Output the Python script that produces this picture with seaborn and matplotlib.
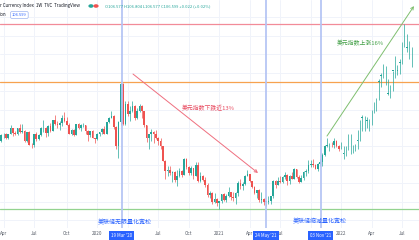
import numpy as np
import pandas as pd
import matplotlib
matplotlib.use("Agg")
import matplotlib.pyplot as plt
import matplotlib.dates as mdates
import seaborn as sns

# ---------------- data (weekly US Dollar Index candles) ----------------
first_week = "2019-03-25"
opens = [96.6, 97.3, 97.4, 96.9, 97.4, 98.0, 97.5, 97.3, 98.0, 97.6,
         97.7, 96.6, 97.6, 96.2, 96.1, 97.3, 96.8, 97.2, 98.0, 98.0,
         97.5, 98.2, 97.7, 98.9, 98.4, 98.3, 98.5, 99.1, 98.8, 98.3,
         97.3, 97.8, 97.2, 98.4, 98.0, 98.3, 98.3, 97.7, 97.2, 97.7,
         96.9, 96.8, 97.4, 97.6, 97.9, 97.4, 98.7, 99.1, 99.3, 98.1,
         96.0, 98.7, 102.8, 98.4, 100.6, 99.5, 99.8, 100.4, 99.1, 99.8,
         100.4, 99.9, 98.3, 96.9, 97.3, 97.6, 97.4, 96.9, 96.6, 96.0,
         94.4, 93.3, 93.4, 93.1, 93.2, 92.4, 92.8, 93.3, 92.9, 94.6,
         93.8, 93.1, 93.7, 92.8, 94.0, 92.2, 92.8, 92.4, 91.8, 90.7,
         90.9, 90.0, 90.3, 89.9, 90.1, 90.8, 90.2, 90.6, 91.0, 90.5,
         90.4, 90.9, 92.0, 91.7, 91.9, 92.8, 93.0, 92.2, 91.6, 90.9,
         91.3, 90.2, 90.3, 90.0, 90.0, 90.1, 90.6, 92.2, 91.8, 92.2,
         92.1, 92.7, 92.9, 92.2, 92.8, 92.5, 93.5, 92.7, 92.1, 92.6,
         93.2, 93.3, 94.0, 94.1, 94.0, 93.6, 94.1, 94.3, 95.1, 96.0,
         96.1, 96.2, 96.1, 96.6, 96.0, 95.7, 95.2, 95.6, 97.3, 95.5,
         96.0, 96.0, 96.6, 98.6, 99.1, 98.2, 98.8, 98.6, 99.8, 100.5,
         101.1, 103.0, 103.7, 104.6, 103.2, 101.7, 102.2, 104.2, 104.7, 104.2,
         105.1, 106.9, 108.1, 106.7, 105.8, 106.577]
highs = [97.3, 97.5, 97.5, 97.4, 98.3, 98.0, 97.7, 98.0, 98.4, 98.4,
         97.8, 97.6, 97.7, 96.4, 97.3, 97.6, 97.4, 98.1, 98.9, 98.1,
         98.3, 98.5, 98.9, 99.4, 98.8, 98.8, 99.4, 99.7, 99.2, 98.5,
         97.9, 97.9, 98.4, 98.5, 98.4, 98.5, 98.3, 97.8, 97.7, 97.8,
         96.9, 97.5, 97.6, 98.0, 98.2, 98.7, 99.2, 99.9, 99.4, 98.2,
         98.8, 103.0, 102.9, 100.9, 100.9, 100.4, 100.9, 100.5, 100.2, 100.6,
         100.5, 99.9, 98.3, 97.4, 97.9, 97.7, 97.8, 97.0, 96.9, 96.0,
         94.5, 93.9, 93.9, 93.3, 93.3, 93.4, 93.7, 93.4, 94.7, 94.7,
         93.9, 93.9, 93.7, 94.3, 94.3, 93.2, 92.9, 92.7, 92.0, 91.2,
         91.0, 90.9, 90.4, 90.1, 90.8, 90.9, 90.8, 91.6, 91.1, 91.0,
         91.0, 92.2, 92.5, 92.1, 92.9, 93.4, 93.0, 92.2, 91.7, 91.3,
         91.4, 91.0, 90.4, 90.1, 90.6, 90.6, 92.4, 92.4, 92.7, 92.8,
         92.8, 93.2, 93.0, 92.9, 93.2, 93.7, 93.6, 92.9, 92.9, 93.3,
         93.5, 94.5, 94.5, 94.6, 94.1, 94.2, 94.6, 95.3, 96.2, 96.9,
         96.4, 96.5, 96.9, 96.7, 96.2, 96.5, 96.0, 96.0, 97.4, 97.4,
         96.1, 96.3, 97.8, 98.9, 99.4, 99.3, 99.2, 99.0, 100.0, 100.8,
         101.3, 103.3, 104.0, 105.0, 104.7, 103.3, 102.7, 104.2, 105.8, 104.8,
         105.5, 107.3, 109.3, 108.2, 107.4, 106.804]
lows = [96.5, 96.9, 96.8, 96.8, 97.3, 97.1, 97.2, 97.2, 97.5, 97.5,
        96.5, 96.5, 96.1, 95.8, 95.9, 96.6, 96.7, 97.1, 97.6, 97.0,
        97.1, 97.6, 97.7, 98.3, 98.0, 97.8, 98.2, 98.6, 98.3, 97.3,
        97.2, 97.1, 97.2, 97.9, 97.7, 98.1, 97.4, 96.6, 97.0, 96.9,
        96.4, 96.7, 97.1, 97.3, 97.3, 97.4, 98.5, 99.1, 97.9, 95.7,
        94.7, 98.3, 98.3, 98.3, 99.3, 98.8, 99.7, 98.9, 99.0, 99.7,
        99.1, 98.1, 96.5, 95.7, 96.6, 96.4, 96.8, 96.2, 95.7, 94.4,
        92.5, 92.8, 92.9, 92.1, 92.1, 91.7, 92.7, 92.7, 92.9, 93.5,
        92.9, 92.9, 92.5, 92.8, 92.1, 92.1, 92.2, 91.6, 90.5, 90.4,
        89.7, 89.9, 89.5, 89.2, 89.9, 90.1, 90.0, 90.5, 90.2, 90.1,
        89.7, 90.6, 91.4, 91.3, 91.8, 92.8, 92.1, 91.5, 90.8, 90.4,
        90.0, 89.9, 89.6, 89.5, 89.7, 89.8, 90.4, 91.5, 91.8, 92.0,
        92.0, 92.5, 91.8, 91.9, 92.5, 92.5, 92.6, 92.0, 92.1, 92.4,
        92.8, 93.1, 93.8, 93.8, 93.5, 93.3, 93.9, 93.9, 95.0, 95.9,
        95.5, 95.9, 95.8, 95.9, 95.5, 95.7, 94.6, 95.0, 95.6, 95.2,
        95.3, 95.5, 95.7, 96.6, 97.7, 97.7, 98.0, 97.7, 98.3, 99.6,
        99.8, 101.0, 102.4, 103.4, 102.7, 101.6, 101.3, 102.0, 103.4, 103.8,
        103.9, 104.9, 106.8, 106.3, 105.5, 104.6]
closes = [97.2, 97.4, 96.9, 97.4, 98.0, 97.5, 97.3, 98.0, 97.6, 97.7,
          96.6, 97.6, 96.2, 96.1, 97.3, 96.8, 97.2, 98.0, 98.0, 97.5,
          98.2, 97.7, 98.9, 98.4, 98.3, 98.5, 99.1, 98.8, 98.3, 97.3,
          97.8, 97.2, 98.4, 98.0, 98.3, 98.3, 97.7, 97.2, 97.7, 96.9,
          96.8, 97.4, 97.6, 97.9, 97.4, 98.7, 99.1, 99.3, 98.1, 96.0,
          98.7, 102.8, 98.4, 100.6, 99.5, 99.8, 100.4, 99.1, 99.8, 100.4,
          99.9, 98.3, 96.9, 97.3, 97.6, 97.4, 96.9, 96.6, 96.0, 94.4,
          93.3, 93.4, 93.1, 93.2, 92.4, 92.8, 93.3, 92.9, 94.6, 93.8,
          93.1, 93.7, 92.8, 94.0, 92.2, 92.8, 92.4, 91.8, 90.7, 90.9,
          90.0, 90.3, 89.9, 90.1, 90.8, 90.2, 90.6, 91.0, 90.5, 90.4,
          90.9, 92.0, 91.7, 91.9, 92.8, 93.0, 92.2, 91.6, 90.9, 91.3,
          90.2, 90.3, 90.0, 90.0, 90.1, 90.6, 92.2, 91.8, 92.2, 92.1,
          92.7, 92.9, 92.2, 92.8, 92.5, 93.5, 92.7, 92.1, 92.6, 93.2,
          93.3, 94.0, 94.1, 94.0, 93.6, 94.1, 94.3, 95.1, 96.0, 96.1,
          96.2, 96.1, 96.6, 96.0, 95.7, 95.7, 95.2, 95.6, 97.3, 95.5,
          96.0, 96.0, 96.6, 98.6, 99.1, 98.2, 98.8, 98.6, 99.8, 100.5,
          101.1, 103.0, 103.7, 104.6, 103.2, 101.7, 102.2, 104.2, 104.7, 104.2,
          105.1, 106.9, 108.1, 106.7, 105.8, 106.599]

tick_dates = ["2019-04-01", "2019-07-01", "2019-10-07", "2020-01-06",
              "2020-07-06", "2020-10-05", "2021-01-04", "2021-04-05", "2021-07-05",
              "2022-01-03", "2022-04-04", "2022-07-04"]
tick_labels = ["Apr", "Jul", "Oct", "2020", "Jul", "Oct", "2021", "Apr",
               "Jul", "2022", "Apr", "Jul"]
grid_dates = ["2019-04-01", "2019-07-01", "2019-10-07", "2020-01-06", "2020-04-06",
              "2020-07-06", "2020-10-05", "2021-01-04", "2021-04-05", "2021-07-05",
              "2021-10-04", "2022-01-03", "2022-04-04", "2022-07-04"]

event_dates = ["2020-03-19", "2021-05-24", "2021-11-03"]
event_labels = ["19 Mar '20", "24 May '21", "03 Nov '21"]
level_prices = [109.29, 102.99, 89.21]
level_colors = ["#f28b98", "#f7a24f", "#93d38f"]

fall_text = "美元指数下跌近13%"
rise_text = "美元指数上涨16%"
qe_text = "美联储无限量化宽松"
taper_text = "美联储缩减量化宽松"

# ---------------- style ----------------
sns.set_theme(style="white")
plt.rcParams["font.family"] = ["Noto Sans CJK SC", "DejaVu Sans"]

df = pd.DataFrame({
    "date": pd.date_range(first_week, periods=len(closes), freq="W-MON"),
    "open": opens, "high": highs, "low": lows, "close": closes,
})
df["up"] = df["close"] >= df["open"]
df["x"] = mdates.date2num(df["date"])

UP, DOWN = "#26a69a", "#ef5350"

fig = plt.figure(figsize=(4.19, 2.40), dpi=100)
ax = fig.add_axes([0, 12 / 240, 1, 228 / 240])
ax.set_facecolor("white")

# grid
for tx in mdates.date2num(pd.to_datetime(grid_dates)):
    ax.axvline(tx, color="#f0f3fa", lw=0.7, zorder=0)
for gy in np.arange(88, 112, 2):
    ax.axhline(gy, color="#f0f3fa", lw=0.7, zorder=0)

# candles
colors = np.where(df["up"], UP, DOWN)
ax.vlines(df["x"], df["low"], df["high"], colors=colors, lw=0.5, zorder=3)
body = (df["close"] - df["open"]).where(lambda s: s.abs() > 0.05, 0.05)
ax.bar(df["x"], body, bottom=df["open"], width=5.0, color=colors,
       linewidth=0, zorder=4)

# horizontal levels
for p, c in zip(level_prices, level_colors):
    ax.axhline(p, color=c, lw=0.9, zorder=2)

# event vertical lines
ev_x = mdates.date2num(pd.to_datetime(event_dates))
for ex in ev_x:
    ax.axvline(ex, color="#b4c4f4", lw=1.4, zorder=5, alpha=0.9)

# limits (pixel-matched)
x_anchor = mdates.date2num(pd.Timestamp("2019-04-01"))
px_per_day = 2.345 / 7.0
ax.set_xlim(x_anchor - 3.5 / px_per_day, x_anchor + (419 - 3.5) / px_per_day)
ax.set_ylim(87.14, 111.90)

def px2data(px, py):
    return (x_anchor + (px - 3.5) / px_per_day, 109.29 - (py - 24) / 9.21)

# arrows
ax.annotate("", xy=px2data(258, 173), xytext=px2data(133, 74),
            arrowprops=dict(arrowstyle="->", color="#ef6f7f", lw=0.7,
                            mutation_scale=5, shrinkA=0, shrinkB=0), zorder=6)
ax.annotate("", xy=px2data(414, 6), xytext=px2data(327, 136),
            arrowprops=dict(arrowstyle="->", color="#7fbf6f", lw=0.7,
                            mutation_scale=5, shrinkA=0, shrinkB=0), zorder=6)

ax.text(*px2data(208, 108), fall_text, color="#e84a5f", fontsize=4.2,
        ha="center", va="center", zorder=7)
ax.text(*px2data(360, 43), rise_text, color="#43a047", fontsize=4.2,
        ha="center", va="center", zorder=7)
ax.text(*px2data(125, 222), qe_text, color="#2962ff", fontsize=4.3,
        ha="center", va="center", zorder=7)
ax.text(*px2data(320, 221), taper_text, color="#2962ff", fontsize=4.3,
        ha="center", va="center", zorder=7)

# x axis ticks
ax.set_xticks(mdates.date2num(pd.to_datetime(tick_dates)))
ax.set_xticklabels(tick_labels, fontsize=3.3, color="#555b66")
ax.tick_params(axis="x", length=0, pad=2.5)
ax.set_yticks([])
for s in ax.spines.values():
    s.set_visible(False)

# event date boxes on the time axis
for ex, lab in zip(ev_x, event_labels):
    ax.annotate(lab, xy=(ex, 0), xycoords=("data", "axes fraction"),
                xytext=(0, -5.6), textcoords="offset points",
                ha="center", va="center", fontsize=3.2, color="white",
                bbox=dict(boxstyle="square,pad=0.45", fc="#2962ff", ec="none"),
                annotation_clip=False, zorder=10)

# header
fig.text(0.0, 1 - 6 / 240, "r Currency Index  1W  TVC  TradingView",
         fontsize=3.2, color="#131722", va="center", ha="left")
fig.patches.append(plt.Circle((91 / 419, 1 - 6 / 240), 0.0045, color="#26a69a",
                              transform=fig.transFigure, figure=fig))
fig.patches.append(plt.Circle((96 / 419, 1 - 6 / 240), 0.0045, color="#ef5350",
                              transform=fig.transFigure, figure=fig))
fig.text(105 / 419, 1 - 6 / 240,
         "O106.577 H106.804 L106.577 C106.599 +0.022 (+0.02%)",
         fontsize=3.0, color="#26a69a", va="center", ha="left")
fig.text(0.0, 1 - 15 / 240, "ion", fontsize=3.2, color="#131722",
         va="center", ha="left")
fig.text(12 / 419, 1 - 15 / 240, "106.599", fontsize=3.0, color="#2962ff",
         va="center", ha="left",
         bbox=dict(boxstyle="round,pad=0.35", fc="white", ec="#9db4f0", lw=0.5))

fig.savefig("out.png", dpi=100)
